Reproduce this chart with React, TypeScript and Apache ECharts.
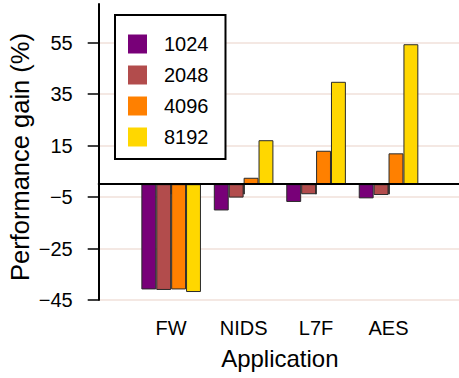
import React, { useEffect, useRef } from "react";
import * as echarts from "echarts";

const apps = ["FW", "NIDS", "L7F", "AES"];
const seriesNames = ["1024", "2048", "4096", "8192"];
const v1024 = [-40.9, -10.2, -6.9, -5.5];
const v2048 = [-41.1, -5.2, -3.9, -4.2];
const v4096 = [-40.9, 2.5, 13.0, 12.0];
const v8192 = [-41.9, 17.1, 39.8, 54.4];
const yTicks = [-45, -25, -5, 15, 35, 55];
const colors = ["#780078", "#b24c4c", "#ff8000", "#ffd700"];

const FONT = "'Liberation Sans', Arial, Helvetica, sans-serif";

export default function App() {
  const ref = useRef<HTMLDivElement>(null);
  useEffect(() => {
    if (!ref.current) return;
    const chart = echarts.init(ref.current, null, { renderer: "svg" });
    const cats = ["", ...apps, ""];
    const pad = (arr: number[]) => [null, ...arr, null];
    const all = [v1024, v2048, v4096, v8192];
    const series: any[] = all.map((vals, i) => ({
      name: seriesNames[i],
      type: "bar",
      data: pad(vals),
      barGap: "0%",
      barWidth: 14.9,
      itemStyle: { color: colors[i], borderColor: "#2a2a2a", borderWidth: 1 },
      emphasis: { disabled: true },
      ...(i === 3
        ? {
            markLine: {
              silent: true,
              symbol: "none",
              label: { show: false },
              lineStyle: { color: "#000", width: 2, type: "solid" },
              data: [{ yAxis: 0 }],
              z: 10,
            },
          }
        : {}),
    }));
    chart.setOption({
      animation: false,
      textStyle: { fontFamily: FONT, color: "#000" },
      grid: {
        left: 98.7,
        right: -2,
        top: 4.1,
        bottom: 78,
        containLabel: false,
        outerBoundsMode: "none",
      },
      legend: {
        orient: "vertical",
        left: 115,
        top: 15,
        data: seriesNames,
        itemWidth: 19,
        itemHeight: 19,
        itemGap: 11,
        padding: [19, 17, 12, 13],
        borderColor: "#000",
        borderWidth: 2,
        backgroundColor: "#fff",
        icon: "rect",
        itemStyle: { borderWidth: 0 },
        textStyle: { fontSize: 20, fontFamily: FONT, color: "#000", padding: [0, 0, 0, 12] },
        z: 20,
      },
      xAxis: {
        type: "category",
        data: cats,
        boundaryGap: false,
        name: "Application",
        nameLocation: "middle",
        nameGap: 46,
        nameMoveOverlap: false,
        nameTextStyle: { fontSize: 24, fontFamily: FONT, color: "#000" },
        axisLine: { lineStyle: { color: "#000", width: 2 } },
        axisTick: {
          length: 10,
          interval: (idx: number, val: string) => val !== "",
          lineStyle: { color: "#000", width: 1.5 },
        },
        axisLabel: {
          fontSize: 20,
          fontFamily: FONT,
          color: "#000",
          margin: 18,
          interval: 0,
        },
        splitLine: { show: false },
      },
      yAxis: {
        type: "value",
        min: -45,
        max: 70,
        name: "Performance gain (%)",
        nameLocation: "middle",
        nameGap: 66,
        nameMoveOverlap: false,
        nameRotate: 90,
        nameTextStyle: { fontSize: 25.5, fontFamily: FONT, color: "#000", padding: [0, 10, 0, 0] },
        axisLine: { show: true, lineStyle: { color: "#000", width: 2 } },
        axisTick: {
          show: true,
          length: 11,
          customValues: yTicks,
          lineStyle: { color: "#000", width: 1.5 },
        },
        axisLabel: {
          fontSize: 20,
          fontFamily: FONT,
          color: "#000",
          margin: 26,
          customValues: yTicks,
          formatter: (v: number) => String(v).replace("-", "\u2212"),
        },
        splitLine: { show: true, lineStyle: { color: "#f0e0da", width: 1.5 } },
      },
      series,
    });
    return () => chart.dispose();
  }, []);
  return (
    <div
      ref={ref}
      style={{ position: "fixed", left: 0, top: 0, width: 459, height: 378, background: "#fff" }}
    />
  );
}
